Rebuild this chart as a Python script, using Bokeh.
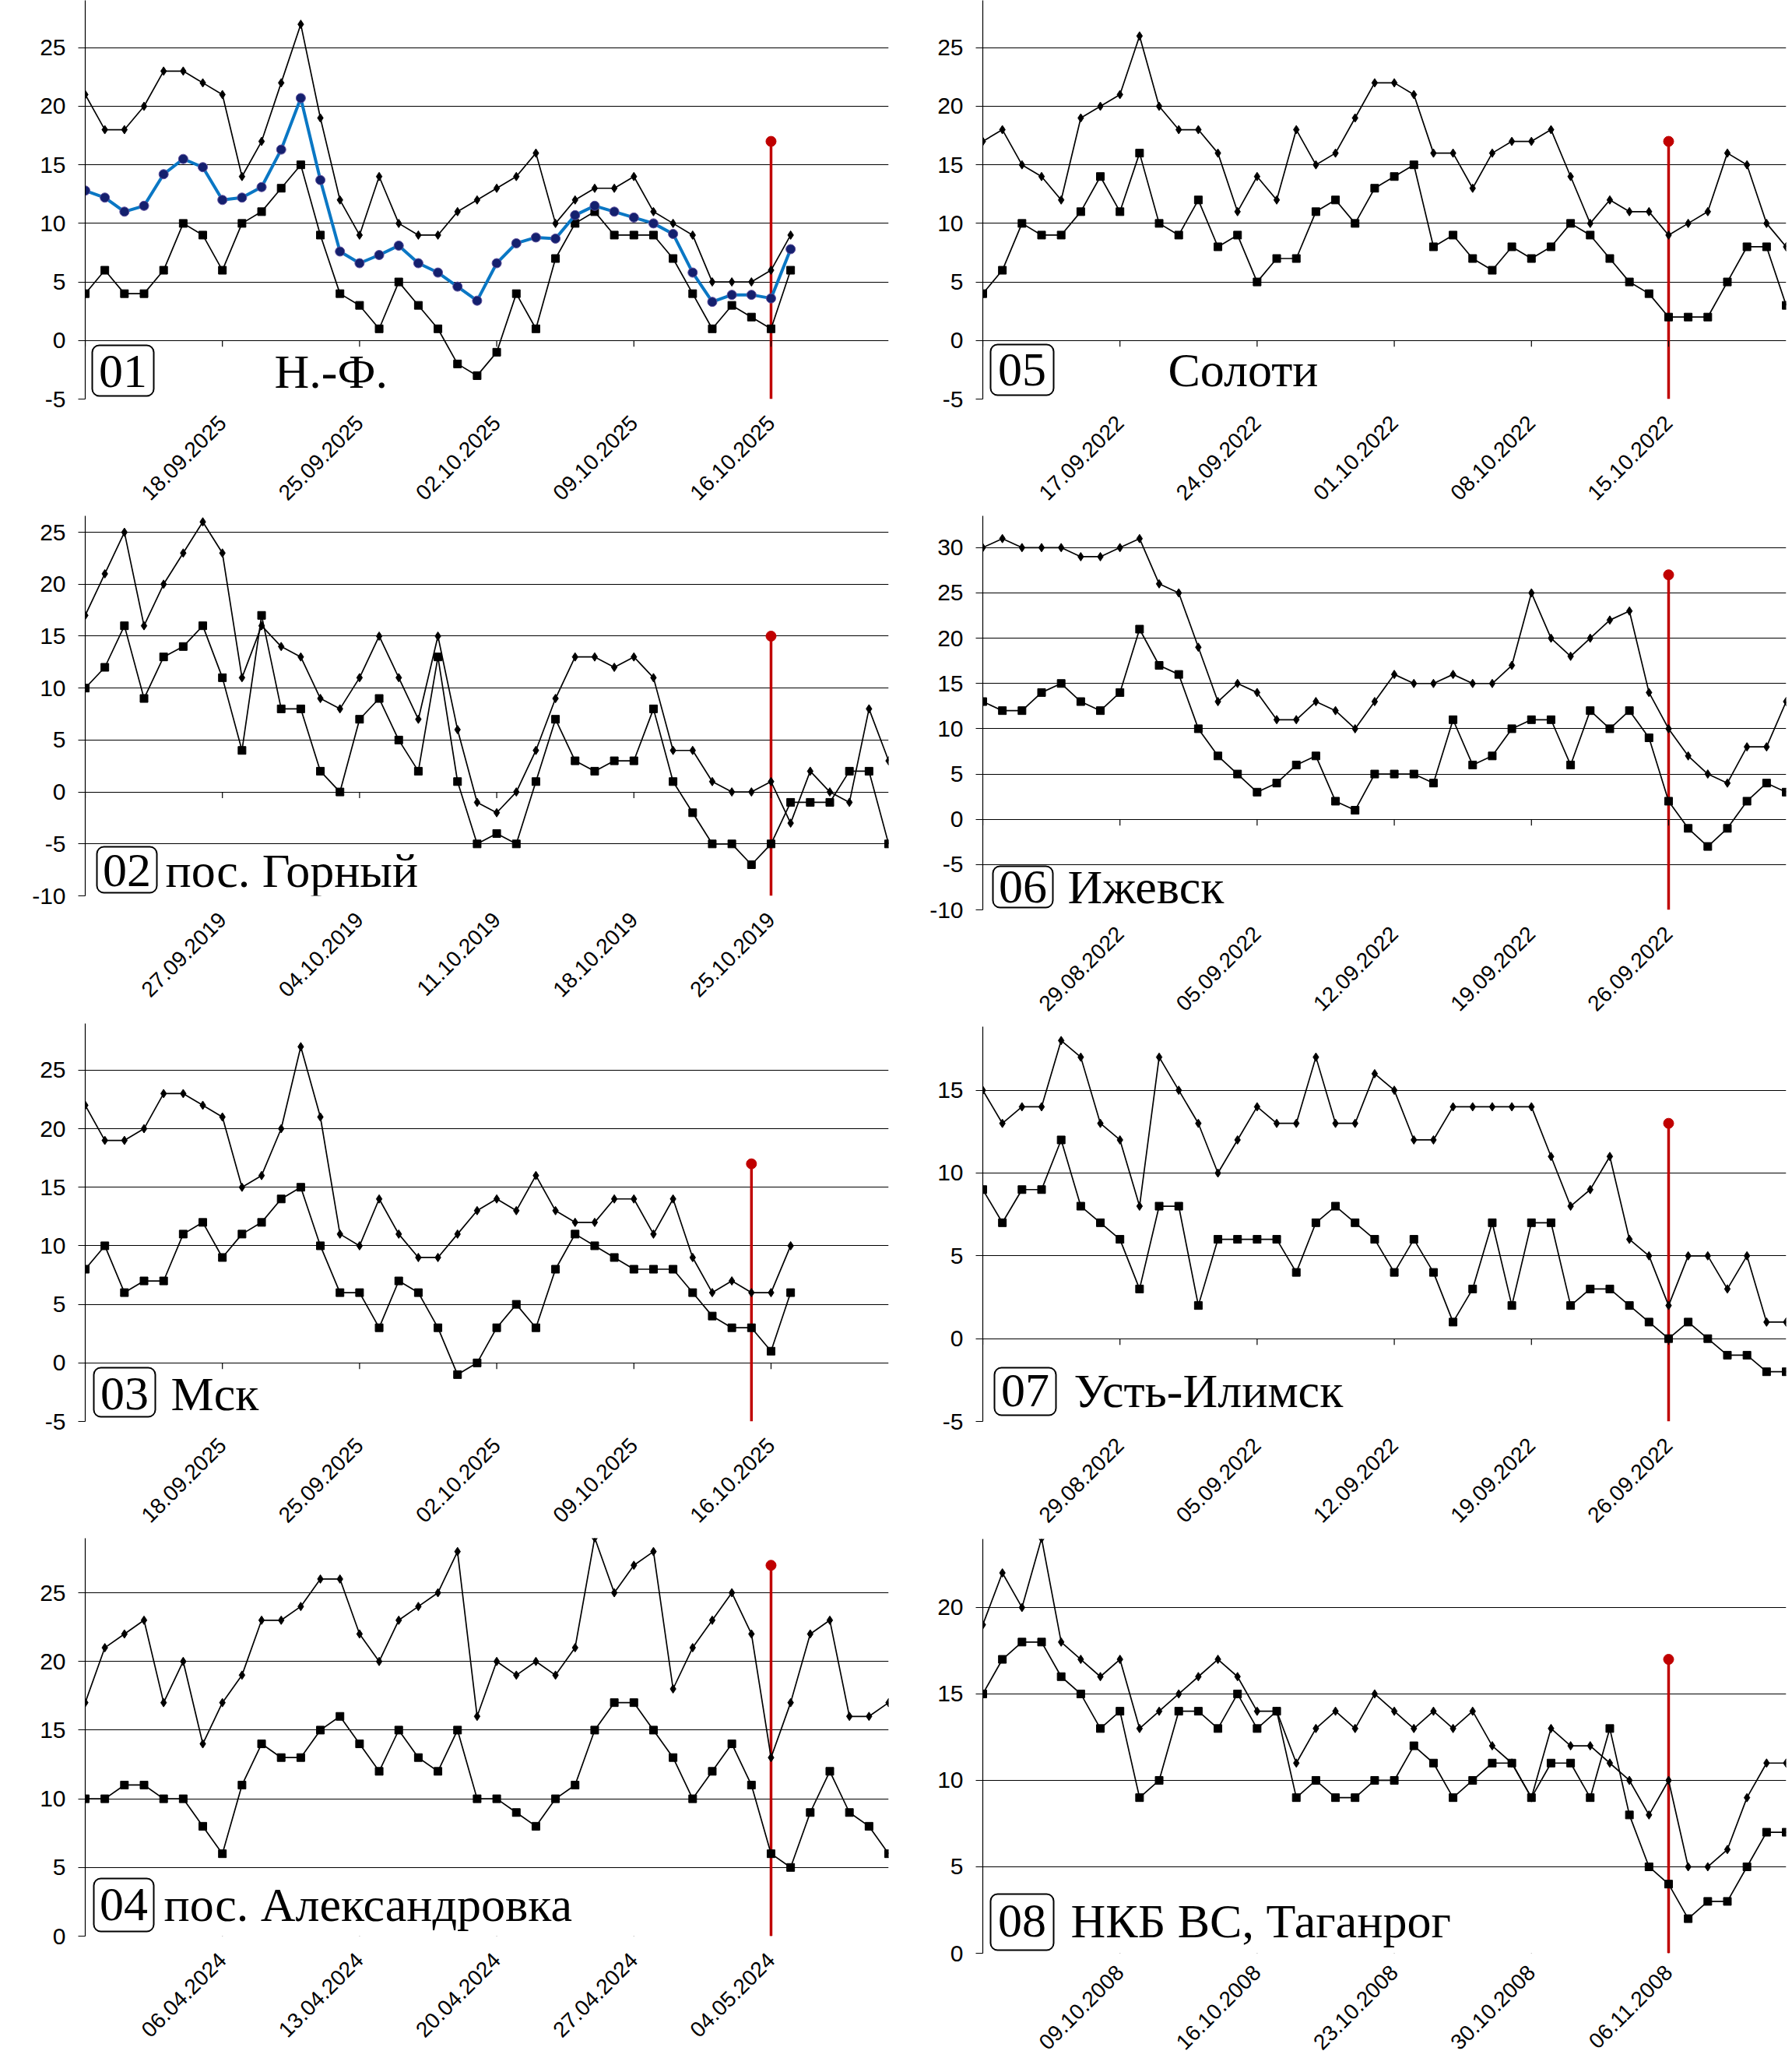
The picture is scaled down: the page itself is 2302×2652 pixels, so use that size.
from math import pi, ceil
from bokeh.plotting import figure
from bokeh.layouts import column, row
from bokeh.models import Range1d, FixedTicker, Label, BoxAnnotation
from bokeh.embed import file_html
from bokeh.resources import INLINE

# ---------------- data ----------------
week_ticks = [0, 7, 14, 21, 28, 35]
label_ticks = [7, 14, 21, 28, 35]

# 01 Н.-Ф.  (11.09.2025 ...)
p01_hi = [21, 18, 18, 20, 23, 23, 22, 21, 14, 17, 22, 27, 19, 12, 9, 14, 10, 9, 9, 11, 12, 13, 14, 16, 10,
          12, 13, 13, 14, 11, 10, 9, 5, 5, 5, 6, 9]
p01_lo = [4, 6, 4, 4, 6, 10, 9, 6, 10, 11, 13, 15, 9, 4, 3, 1, 5, 3, 1, -2, -3, -1, 4, 1, 7,
          10, 11, 9, 9, 9, 7, 4, 1, 3, 2, 1, 6]
p01_avg = [12.8, 12.2, 11.0, 11.5, 14.2, 15.5, 14.8, 12.0, 12.2, 13.1, 16.3, 20.7, 13.7, 7.6, 6.6, 7.3,
           8.1, 6.6, 5.8, 4.6, 3.4, 6.6, 8.3, 8.8, 8.7, 10.7, 11.5, 11.0, 10.5, 10.0, 9.1, 5.8, 3.3,
           3.9, 3.9, 3.6, 7.8]
p01_dates = ["18.09.2025", "25.09.2025", "02.10.2025", "09.10.2025", "16.10.2025"]

# 05 Солоти (10.09.2022 ...)
p05_hi = [17, 18, 15, 14, 12, 19, 20, 21, 26, 20, 18, 18, 16, 11, 14, 12, 18, 15, 16, 19, 22, 22, 21, 16,
          16, 13, 16, 17, 17, 18, 14, 10, 12, 11, 11, 9, 10, 11, 16, 15, 10, 8]
p05_lo = [4, 6, 10, 9, 9, 11, 14, 11, 16, 10, 9, 12, 8, 9, 5, 7, 7, 11, 12, 10, 13, 14, 15, 8,
          9, 7, 6, 8, 7, 8, 10, 9, 7, 5, 4, 2, 2, 2, 5, 8, 8, 3]
p05_dates = ["17.09.2022", "24.09.2022", "01.10.2022", "08.10.2022", "15.10.2022"]

# 02 пос. Горный (20.09.2019 ...)
p02_hi = [17, 21, 25, 16, 20, 23, 26, 23, 11, 16, 14, 13, 9, 8, 11, 15, 11, 7, 15, 6, -1, -2, 0, 4,
          9, 13, 13, 12, 13, 11, 4, 4, 1, 0, 0, 1, -3, 2, 0, -1, 8, 3]
p02_lo = [10, 12, 16, 9, 13, 14, 16, 11, 4, 17, 8, 8, 2, 0, 7, 9, 5, 2, 13, 1, -5, -4, -5, 1,
          7, 3, 2, 3, 3, 8, 1, -2, -5, -5, -7, -5, -1, -1, -1, 2, 2, -5]
p02_dates = ["27.09.2019", "04.10.2019", "11.10.2019", "18.10.2019", "25.10.2019"]

# 06 Ижевск (22.08.2022 ...)
p06_hi = [30, 31, 30, 30, 30, 29, 29, 30, 31, 26, 25, 19, 13, 15, 14, 11, 11, 13, 12, 10, 13, 16, 15, 15,
          16, 15, 15, 17, 25, 20, 18, 20, 22, 23, 14, 10, 7, 5, 4, 8, 8, 13]
p06_lo = [13, 12, 12, 14, 15, 13, 12, 14, 21, 17, 16, 10, 7, 5, 3, 4, 6, 7, 2, 1, 5, 5, 5, 4,
          11, 6, 7, 10, 11, 11, 6, 12, 10, 12, 9, 2, -1, -3, -1, 2, 4, 3]
p06_dates = ["29.08.2022", "05.09.2022", "12.09.2022", "19.09.2022", "26.09.2022"]

# 03 Мск (11.09.2025 ...)
p03_hi = [22, 19, 19, 20, 23, 23, 22, 21, 15, 16, 20, 27, 21, 11, 10, 14, 11, 9, 9, 11, 13, 14, 13, 16,
          13, 12, 12, 14, 14, 11, 14, 9, 6, 7, 6, 6, 10]
p03_lo = [8, 10, 6, 7, 7, 11, 12, 9, 11, 12, 14, 15, 10, 6, 6, 3, 7, 6, 3, -1, 0, 3, 5, 3,
          8, 11, 10, 9, 8, 8, 8, 6, 4, 3, 3, 1, 6]
p03_dates = p01_dates

# 07 Усть-Илимск (22.08.2022 ...)
p07_hi = [15, 13, 14, 14, 18, 17, 13, 12, 8, 17, 15, 13, 10, 12, 14, 13, 13, 17, 13, 13, 16, 15, 12, 12,
          14, 14, 14, 14, 14, 11, 8, 9, 11, 6, 5, 2, 5, 5, 3, 5, 1, 1]
p07_lo = [9, 7, 9, 9, 12, 8, 7, 6, 3, 8, 8, 2, 6, 6, 6, 6, 4, 7, 8, 7, 6, 4, 6, 4,
          1, 3, 7, 2, 7, 7, 2, 3, 3, 2, 1, 0, 1, 0, -1, -1, -2, -2]
p07_dates = p06_dates

# 04 пос. Александровка (30.03.2024 ...)
p04_hi = [17, 21, 22, 23, 17, 20, 14, 17, 19, 23, 23, 24, 26, 26, 22, 20, 23, 24, 25, 28, 16, 20, 19, 20,
          19, 21, 29, 25, 27, 28, 18, 21, 23, 25, 22, 13, 17, 22, 23, 16, 16, 17]
p04_lo = [10, 10, 11, 11, 10, 10, 8, 6, 11, 14, 13, 13, 15, 16, 14, 12, 15, 13, 12, 15, 10, 10, 9, 8,
          10, 11, 15, 17, 17, 15, 13, 10, 12, 14, 11, 6, 5, 9, 12, 9, 8, 6]
p04_dates = ["06.04.2024", "13.04.2024", "20.04.2024", "27.04.2024", "04.05.2024"]

# 08 НКБ ВС, Таганрог (02.10.2008 ...)
p08_hi = [19, 22, 20, 24, 18, 17, 16, 17, 13, 14, 15, 16, 17, 16, 14, 14, 11, 13, 14, 13, 15, 14, 13, 14,
          13, 14, 12, 11, 9, 13, 12, 12, 11, 10, 8, 10, 5, 5, 6, 9, 11, 11]
p08_lo = [15, 17, 18, 18, 16, 15, 13, 14, 9, 10, 14, 14, 13, 15, 13, 14, 9, 10, 9, 9, 10, 10, 12, 11,
          9, 10, 11, 11, 9, 11, 11, 9, 13, 8, 5, 4, 2, 3, 3, 5, 7, 7]
p08_dates = ["09.10.2008", "16.10.2008", "23.10.2008", "30.10.2008", "06.11.2008"]

# marker day (red line) and its height
red_day = {"01": 35, "05": 35, "02": 35, "06": 35, "03": 34, "07": 35, "04": 35, "08": 35}
red_top = {"01": 17, "05": 17, "02": 15, "06": 27, "03": 17, "07": 13, "04": 27, "08": 17}

# ---------------- style ----------------
SANS = "Liberation Sans"
SERIF = "Liberation Serif"
RED = "#C00000"
BLUE = "#0A77C4"
NAVY = "#14206E"
FRAME_W = 1032
X_MAX = 41
CAPTION_PX = 62
MID_OFFSET = 0.3375 * CAPTION_PX   # baseline -> middle of the text box


def panel(num, name, hi, lo, dates, ylo, yhi, frame_h, top, bottom, left, right,
          box, base_dy, name_dx, standoff=26, avg=None):
    p = figure(frame_width=FRAME_W, frame_height=frame_h,
               x_range=Range1d(0, X_MAX), y_range=Range1d(ylo, yhi),
               output_backend="svg", toolbar_location=None,
               min_border_left=left, min_border_right=right,
               min_border_top=top, min_border_bottom=bottom)
    p.outline_line_color = None
    p.xgrid.grid_line_color = None

    yt = list(range(int(ceil(ylo / 5.0) * 5), int(yhi) + 1, 5))
    ya = p.yaxis[0]
    ya.ticker = FixedTicker(ticks=yt)
    ya.major_label_overrides = {t: str(t) for t in yt}
    ya.axis_line_color = "black"
    ya.axis_line_width = 1.2
    ya.major_tick_out = 9
    ya.major_tick_in = 0
    ya.major_tick_line_width = 1.2
    ya.minor_tick_line_color = None
    ya.minor_tick_out = 0
    ya.major_label_text_font = SANS
    ya.major_label_text_font_size = "30px"
    ya.major_label_text_color = "black"
    ya.major_label_standoff = 16
    p.ygrid.ticker = FixedTicker(ticks=yt)
    p.ygrid.grid_line_color = "black"
    p.ygrid.grid_line_width = 1.2

    # date labels under the plot
    xa = p.xaxis[0]
    xa.ticker = FixedTicker(ticks=label_ticks)
    xa.major_label_overrides = dict(zip(label_ticks, dates))
    xa.axis_line_color = None
    xa.major_tick_line_color = None
    xa.major_tick_out = 0
    xa.major_tick_in = 0
    xa.minor_tick_line_color = None
    xa.minor_tick_out = 0
    xa.minor_tick_in = 0
    xa.major_label_orientation = pi / 4
    xa.major_label_text_font = SANS
    xa.major_label_text_font_size = "28px"
    xa.major_label_text_color = "black"
    xa.major_label_standoff = standoff

    px_unit = frame_h / (yhi - ylo)

    rd, rt = red_day[num], red_top[num]
    p.segment(x0=[rd], y0=[ylo], x1=[rd], y1=[rt], line_color=RED, line_width=3.5)
    p.scatter([rd], [rt], marker="circle", size=13, color=RED)

    # week ticks hanging from the zero line
    p.segment(x0=week_ticks, y0=[0] * len(week_ticks), x1=week_ticks,
              y1=[-8 / px_unit] * len(week_ticks), line_color="black", line_width=1.2)

    x = list(range(len(hi)))
    p.line(x, hi, line_color="black", line_width=1.7)
    p.scatter(x, hi, marker="diamond", size=11, color="black")
    p.line(x, lo, line_color="black", line_width=1.7)
    p.scatter(x, lo, marker="square", size=10, color="black")
    if avg is not None:
        p.line(x, avg, line_color=BLUE, line_width=4)
        p.scatter(x, avg, marker="circle", size=12, fill_color=NAVY,
                  line_color="#5C4E9C", line_width=1)

    # caption: numbered box + place name (offsets in px from frame bottom-left)
    def fx(dx):
        return dx * X_MAX / FRAME_W

    def fy(dy):
        return ylo + dy / px_unit

    p.add_layout(BoxAnnotation(left=fx(box[0]), right=fx(box[1]), bottom=fy(box[2]), top=fy(box[3]),
                               fill_color=None, fill_alpha=0, line_color="black", line_alpha=1,
                               line_width=2, border_radius=9))
    p.add_layout(Label(x=fx((box[0] + box[1]) / 2), y=fy(base_dy + MID_OFFSET), text=num,
                       text_align="center", text_baseline="middle",
                       text_font=SERIF, text_font_size=f"{CAPTION_PX}px", text_color="black"))
    p.add_layout(Label(x=fx(name_dx), y=fy(base_dy + MID_OFFSET), text=name,
                       text_align="left", text_baseline="middle",
                       text_font=SERIF, text_font_size=f"{CAPTION_PX}px", text_color="black"))
    return p


L, R = 109, 111
p01 = panel("01", "Н.-Ф.", p01_hi, p01_lo, p01_dates, -5, 29.04, 512, 0, 150, L, 10,
            (9, 88, 4, 69), 15, 243, avg=p01_avg)
p02 = panel("02", "пос. Горный", p02_hi, p02_lo, p02_dates, -10, 26.58, 488, 0, 164, L, 10,
            (15, 92, 4, 63), 12, 103)
p03 = panel("03", "Мск", p03_hi, p03_lo, p03_dates, -5, 28.98, 511, 0, 150, L, 10,
            (11, 90, 6, 69), 15, 110)
p04 = panel("04", "пос. Александровка", p04_hi, p04_lo, p04_dates, 0, 28.97, 511, 0, 165, L, 10,
            (11, 88, 6, 74), 20, 101)

p05 = panel("05", "Солоти", p05_hi, p05_lo, p05_dates, -5, 29.04, 512, 0, 150, R, 7,
            (10, 91, 5, 70), 17, 238)
p06 = panel("06", "Ижевск", p06_hi, p06_lo, p06_dates, -10, 33.51, 506, 0, 150, R, 7,
            (13, 90, 3, 56), 9, 109)
p07 = panel("07", "Усть-Илимск", p07_hi, p07_lo, p07_dates, -5, 18.84, 507, 0, 150, R, 7,
            (15, 94, 8, 69), 19, 117)
p08 = panel("08", "НКБ ВС, Таганрог", p08_hi, p08_lo, p08_dates, 0, 23.96, 532, 1, 143, R, 7,
            (10, 91, 4, 76), 21, 113, standoff=20)

layout = row(column(p01, p02, p03, p04), column(p05, p06, p07, p08))

open("out.html", "w").write(file_html(layout, INLINE))
